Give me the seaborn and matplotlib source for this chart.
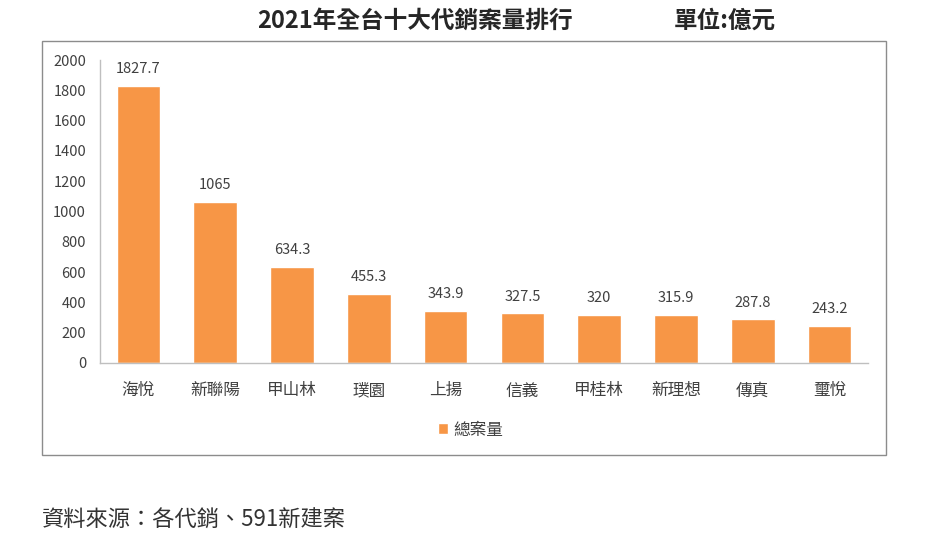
import pandas as pd
import matplotlib
matplotlib.use("Agg")
import matplotlib.pyplot as plt
import seaborn as sns
from matplotlib.patches import Rectangle

# data (unit: 億元)
agencies = ['海悅', '新聯陽', '甲山林', '璞園', '上揚', '信義', '甲桂林', '新理想', '傳真', '璽悅']
volumes = [1827.7, 1065, 634.3, 455.3, 343.9, 327.5, 320, 315.9, 287.8, 243.2]
value_labels = ['1827.7', '1065', '634.3', '455.3', '343.9', '327.5', '320', '315.9', '287.8', '243.2']
y_ticks = [0, 200, 400, 600, 800, 1000, 1200, 1400, 1600, 1800, 2000]

df = pd.DataFrame({'代銷': agencies, '總案量': volumes})

sns.set_style('white')
plt.rcParams['font.family'] = ['Noto Sans CJK TC', 'DejaVu Sans']

W, H = 941, 537
fig = plt.figure(figsize=(W / 100, H / 100), dpi=100)
ax = fig.add_axes([100 / W, 1 - 363 / H, 768 / W, 303 / H])

sns.barplot(data=df, x='代銷', y='總案量', color='#F79646', width=0.57,
            saturation=1, label='總案量', ax=ax)

ax.set_ylim(0, 2000)
ax.set_yticks(y_ticks)
ax.set_yticklabels([str(t) for t in y_ticks], fontsize=10.5, color='#404040')
ax.tick_params(axis='x', labelsize=12, labelcolor='#404040', length=0, pad=14)
ax.tick_params(axis='y', length=0, pad=10)
ax.set_xlabel('')
ax.set_ylabel('')
for s in ['top', 'right']:
    ax.spines[s].set_visible(False)
for s in ['left', 'bottom']:
    ax.spines[s].set_color('#BFBFBF')
    ax.spines[s].set_linewidth(1)

for bar, txt in zip(ax.patches, value_labels):
    ax.annotate(txt, (bar.get_x() + bar.get_width() / 2, bar.get_height()),
                xytext=(0, 7), textcoords='offset points', ha='center', va='bottom',
                fontsize=10.5, color='#404040')

ax.legend(loc='center left', bbox_to_anchor=(423 / W, 1 - 430 / H),
          bbox_transform=fig.transFigure, frameon=False, fontsize=12,
          handlelength=0.6, handleheight=0.6, handletextpad=0.3,
          labelcolor='#404040')

# outer frame of the chart
fig.patches.append(Rectangle((42 / W, 1 - 455 / H), 844 / W, 414 / H,
                             transform=fig.transFigure, fill=False,
                             edgecolor='#8C8C8C', linewidth=1))

fig.text(415 / W, 1 - 21 / H, '2021年全台十大代銷案量排行', ha='center', va='center',
         fontsize=17, fontweight='bold', color='#262626')
fig.text(725 / W, 1 - 21 / H, '單位:億元', ha='center', va='center',
         fontsize=17, fontweight='bold', color='#262626')
fig.text(42 / W, 1 - 520 / H, '資料來源：各代銷、591新建案', ha='left', va='center',
         fontsize=16, color='#333333')

fig.savefig('out.png', dpi=100)
